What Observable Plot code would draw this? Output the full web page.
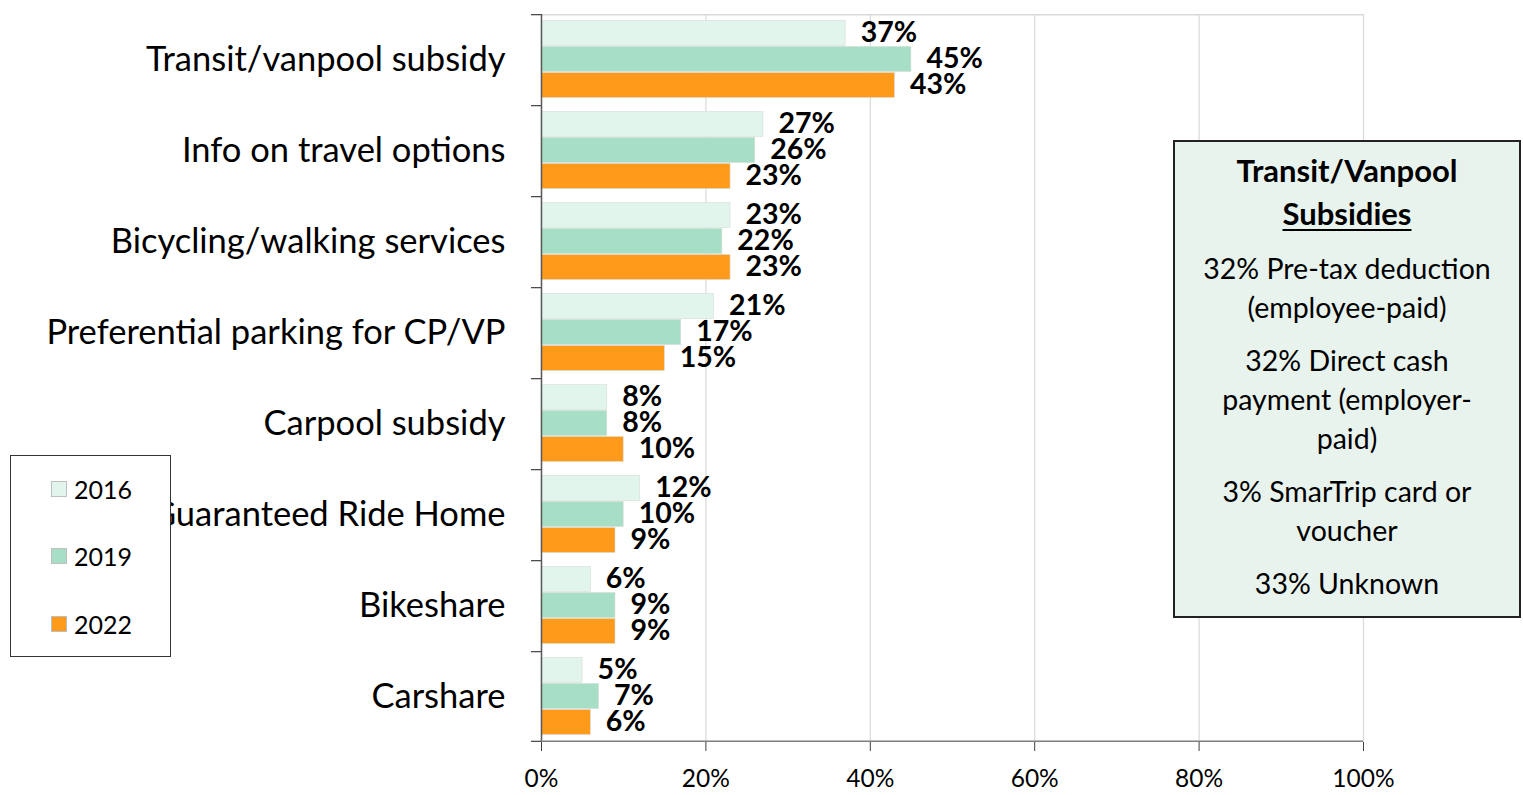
<!DOCTYPE html>
<html>
<head>
<meta charset="utf-8">
<script src="https://cdn.jsdelivr.net/npm/d3@7"></script>
<script src="https://cdn.jsdelivr.net/npm/@observablehq/plot@0.6"></script>
<style>
  html, body { margin: 0; padding: 0; background: #fff; }
  #wrap { position: relative; width: 1523px; height: 795px; overflow: hidden; font-family: Lato, "Open Sans", sans-serif; }
  #legend { position: absolute; left: 10px; top: 455px; width: 161px; height: 202px; border: 1px solid #333; background: #fff; box-sizing: border-box; }
  .li { position: absolute; left: 40px; display: flex; align-items: center; font-size: 25px; color: #000; }
  .sw { width: 16px; height: 16px; border: 1px solid #bfbfbf; margin-right: 7px; box-sizing: border-box; }
  #note { position: absolute; left: 1173px; top: 140px; width: 348px; height: 478px; border: 2px solid #222; background: #e9f3ed; box-sizing: border-box; text-align: center; color: #000; padding-top: 7px; }
  #note .t { font-weight: bold; font-size: 31px; line-height: 43px; }
  #note .t u { text-decoration-thickness: 2px; text-underline-offset: 4px; }
  #note p { margin: 14px 0 0 0; font-size: 28.5px; line-height: 39px; white-space: nowrap; }
</style>
</head>
<body>
<div id="wrap"></div>
<script>
// ---- data ----
const categories = [
  "Transit/vanpool subsidy",
  "Info on travel options",
  "Bicycling/walking services",
  "Preferential parking for CP/VP",
  "Carpool subsidy",
  "Guaranteed Ride Home",
  "Bikeshare",
  "Carshare"
];
const years = ["2016", "2019", "2022"];
const values2016 = [37, 27, 23, 21, 8, 12, 6, 5];
const values2019 = [45, 26, 22, 17, 8, 10, 9, 7];
const values2022 = [43, 23, 23, 15, 10, 9, 9, 6];
const xTicks = [0, 20, 40, 60, 80, 100];
const noteTitle = ["Transit/Vanpool", "Subsidies"];
const noteLines = [
  ["32% Pre-tax deduction", "(employee-paid)"],
  ["32% Direct cash", "payment (employer-", "paid)"],
  ["3% SmarTrip card or", "voucher"],
  ["33% Unknown"]
];

// ---- styles ----
const colors = ["#e1f5ec", "#a6dfc5", "#ff9a1a"];
const W = 1523, H = 795;
const mt = 10.5, mb = 49.5, ml = 541, mr = 160;
const pInner = 0.03, pOuter = 0.21;
const facetH = (H - mt - mb) / categories.length;
const step = facetH / (years.length - pInner + 2 * pOuter);
const bw = step * (1 - pInner);
const edgeOff = pOuter * step + bw / 2; // from facet edge to first/last band centre
const tickLen = 10 / ((W - ml - mr) / 100);

const series = [values2016, values2019, values2022];
const data = categories.flatMap((c, i) => years.map((y, j) => ({category: c, year: y, value: series[j][i]})));
const firstCat = [{category: categories[0], year: years[0]}];
const lastCat = [{category: categories[categories.length - 1], year: years[years.length - 1]}];
const allTops = categories.map(c => ({category: c, year: years[0]}));

const chart = Plot.plot({
  width: W, height: H,
  marginTop: mt, marginBottom: mb, marginLeft: ml, marginRight: mr,
  style: {fontFamily: "Lato, 'Open Sans', sans-serif", background: "transparent", color: "#000"},
  x: {domain: [0, 100], label: null},
  y: {domain: years, paddingInner: pInner, paddingOuter: pOuter, axis: null},
  fy: {domain: categories, padding: 0, label: null},
  color: {domain: years, range: colors},
  marks: [
    Plot.gridX({ticks: xTicks, stroke: "#d9d9d9", strokeOpacity: 1, strokeWidth: 1.2}),
    Plot.ruleY(firstCat, {fy: "category", y: "year", x1: 0, x2: 100, dy: -edgeOff, stroke: "#d9d9d9", strokeWidth: 1.5}),
    Plot.barX(data, {x: "value", y: "year", fy: "category", fill: "year", stroke: "#d6dcd8", strokeWidth: 0.6}),
    Plot.text(data, {x: "value", y: "year", fy: "category", text: d => d.value + "%", textAnchor: "start", dx: 15, dy: -1, fontWeight: "bold", fontSize: 28.5, fill: "#000"}),
    Plot.ruleX([0], {stroke: "#595959", strokeWidth: 1.5}),
    Plot.ruleY(lastCat, {fy: "category", y: "year", x1: 0, x2: 100, dy: edgeOff, stroke: "#7f7f7f", strokeWidth: 1.5}),
    Plot.ruleY(allTops, {fy: "category", y: "year", x1: -tickLen, x2: 0, dy: -edgeOff, stroke: "#404040", strokeWidth: 1.2}),
    Plot.ruleY(lastCat, {fy: "category", y: "year", x1: -tickLen, x2: 0, dy: edgeOff, stroke: "#404040", strokeWidth: 1.2}),
    Plot.axisX({anchor: "bottom", ticks: xTicks, tickFormat: d => d + "%", tickSize: 9, tickPadding: 18, fontSize: 24.5, stroke: "#404040", label: null}),
    Plot.axisFy({anchor: "left", tickSize: 0, tickPadding: 36, fontSize: 34.5, label: null})
  ]
});

const wrap = document.getElementById("wrap");
wrap.appendChild(chart);

// legend
const legend = document.createElement("div");
legend.id = "legend";
const legendTops = [18, 85, 153];
years.forEach((y, j) => {
  const item = document.createElement("div");
  item.className = "li";
  item.style.top = legendTops[j] + "px";
  const sw = document.createElement("div");
  sw.className = "sw";
  sw.style.background = colors[j];
  const lab = document.createElement("span");
  lab.textContent = y;
  item.appendChild(sw); item.appendChild(lab);
  legend.appendChild(item);
});
wrap.appendChild(legend);

// note box
const note = document.createElement("div");
note.id = "note";
const t = document.createElement("div");
t.className = "t";
t.innerHTML = noteTitle[0] + "<br><u>" + noteTitle[1] + "</u>";
note.appendChild(t);
noteLines.forEach(lines => {
  const p = document.createElement("p");
  p.innerHTML = lines.join("<br>");
  note.appendChild(p);
});
wrap.appendChild(note);
</script>
</body>
</html>
